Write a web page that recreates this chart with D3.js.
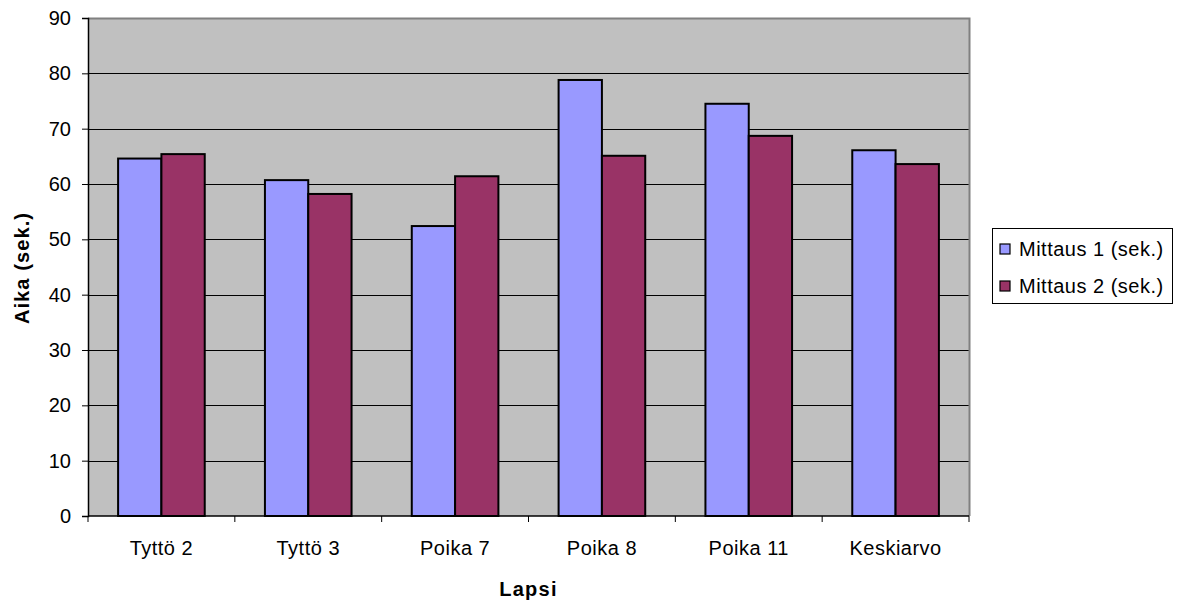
<!DOCTYPE html>
<html>
<head>
<meta charset="utf-8">
<script src="https://cdn.jsdelivr.net/npm/d3@7"></script>
<style>
  html, body { margin: 0; padding: 0; background: #ffffff; }
  svg { display: block; font-family: "Liberation Sans", Arial, sans-serif; }
</style>
</head>
<body>
<svg id="chart" width="1179" height="602"></svg>
<script>
// Categories and measurement series (seconds)
const categories = ["Tyttö 2", "Tyttö 3", "Poika 7", "Poika 8", "Poika 11", "Keskiarvo"];
const mittaus1 = [64.6, 60.7, 52.4, 78.8, 74.5, 66.1];
const mittaus2 = [65.4, 58.2, 61.4, 65.1, 68.7, 63.6];
const seriesNames = ["Mittaus 1 (sek.)", "Mittaus 2 (sek.)"];
const yTicks = [0, 10, 20, 30, 40, 50, 60, 70, 80, 90];

const colors = ["#9999FF", "#993366"];
const svg = d3.select("#chart");

const plot = { left: 88, right: 969, top: 18, bottom: 516 };
const fontSize = 20;

const x = d3.scaleBand()
  .domain(categories)
  .range([plot.left, plot.right])
  .paddingInner(0)
  .paddingOuter(0);

// inner scale for the two series inside each category, leaving a gap around the pair
const groupFrac = 0.59;
const xInner = d3.scaleBand()
  .domain([0, 1])
  .range([0, x.bandwidth() * groupFrac]);

const y = d3.scaleLinear().domain([0, 90]).range([plot.bottom, plot.top]);

// plot background
svg.append("rect")
  .attr("x", plot.left).attr("y", plot.top)
  .attr("width", plot.right - plot.left).attr("height", plot.bottom - plot.top)
  .attr("fill", "#C0C0C0");

// horizontal gridlines
svg.append("g").selectAll("line")
  .data(yTicks.filter(d => d > 0 && d < 90))
  .join("line")
  .attr("x1", plot.left).attr("x2", plot.right)
  .attr("y1", d => Math.round(y(d)) + 0.5).attr("y2", d => Math.round(y(d)) + 0.5)
  .attr("stroke", "#000").attr("stroke-width", 1);

// top and right frame of the plot area
svg.append("path")
  .attr("d", `M${plot.left},${plot.top + 0.5}H${plot.right + 0.5}V${plot.bottom}`)
  .attr("fill", "none").attr("stroke", "#808080").attr("stroke-width", 2);

// bars
const rows = categories.map((c, i) => ({ c, v: [mittaus1[i], mittaus2[i]] }));
const groups = svg.append("g").selectAll("g")
  .data(rows)
  .join("g")
  .attr("transform", d => `translate(${x(d.c) + x.bandwidth() * (1 - groupFrac) / 2},0)`);

groups.selectAll("rect")
  .data(d => d.v.map((v, k) => ({ v, k })))
  .join("rect")
  .attr("x", d => xInner(d.k))
  .attr("y", d => y(d.v))
  .attr("width", xInner.bandwidth())
  .attr("height", d => y(0) - y(d.v))
  .attr("fill", d => colors[d.k])
  .attr("stroke", "#000")
  .attr("stroke-width", 2);

// y axis
const yAxis = d3.axisLeft(y).tickValues(yTicks).tickSize(6).tickPadding(11);
const gy = svg.append("g").attr("transform", `translate(${plot.left},0)`).call(yAxis);
gy.select(".domain").attr("stroke", "#000").attr("stroke-width", 1.5);
gy.selectAll(".tick line").attr("stroke", "#000");
gy.selectAll(".tick text")
  .attr("font-size", fontSize).attr("fill", "#000")
  .attr("font-family", "Liberation Sans, Arial, sans-serif");

// x axis: ticks at category boundaries
const boundaries = categories.map(c => x(c)).concat([plot.right]);
const gx = svg.append("g");
gx.append("line")
  .attr("x1", plot.left).attr("x2", plot.right)
  .attr("y1", plot.bottom).attr("y2", plot.bottom)
  .attr("stroke", "#000").attr("stroke-width", 1.5);
gx.selectAll("line.tk")
  .data(boundaries)
  .join("line").attr("class", "tk")
  .attr("x1", d => d).attr("x2", d => d)
  .attr("y1", plot.bottom).attr("y2", plot.bottom + 6)
  .attr("stroke", "#000");
gx.selectAll("text")
  .data(categories)
  .join("text")
  .attr("x", d => x(d) + x.bandwidth() / 2)
  .attr("y", 555)
  .attr("text-anchor", "middle")
  .attr("font-size", fontSize)
  .attr("letter-spacing", "0.5px")
  .text(d => d);

// axis titles
svg.append("text")
  .attr("x", (plot.left + plot.right) / 2).attr("y", 596)
  .attr("text-anchor", "middle")
  .attr("font-size", fontSize).attr("font-weight", "bold")
  .attr("letter-spacing", "1.3px")
  .text("Lapsi");

svg.append("text")
  .attr("transform", `translate(29,${(plot.top + plot.bottom) / 2 + 1}) rotate(-90)`)
  .attr("text-anchor", "middle")
  .attr("font-size", fontSize).attr("font-weight", "bold")
  .attr("letter-spacing", "1.1px")
  .text("Aika (sek.)");

// legend
const lg = svg.append("g");
lg.append("rect")
  .attr("x", 992.5).attr("y", 228.5)
  .attr("width", 180).attr("height", 75)
  .attr("fill", "#fff").attr("stroke", "#000").attr("stroke-width", 1);
const items = lg.selectAll("g.item")
  .data(seriesNames)
  .join("g").attr("class", "item")
  .attr("transform", (d, i) => `translate(0,${249 + i * 37})`);
items.append("rect")
  .attr("x", 1000).attr("y", -5)
  .attr("width", 10).attr("height", 10)
  .attr("fill", (d, i) => colors[i])
  .attr("stroke", "#000").attr("stroke-width", 1.2);
items.append("text")
  .attr("x", 1019).attr("y", 7)
  .attr("font-size", fontSize)
  .attr("letter-spacing", "0.5px")
  .text(d => d);
</script>
</body>
</html>
